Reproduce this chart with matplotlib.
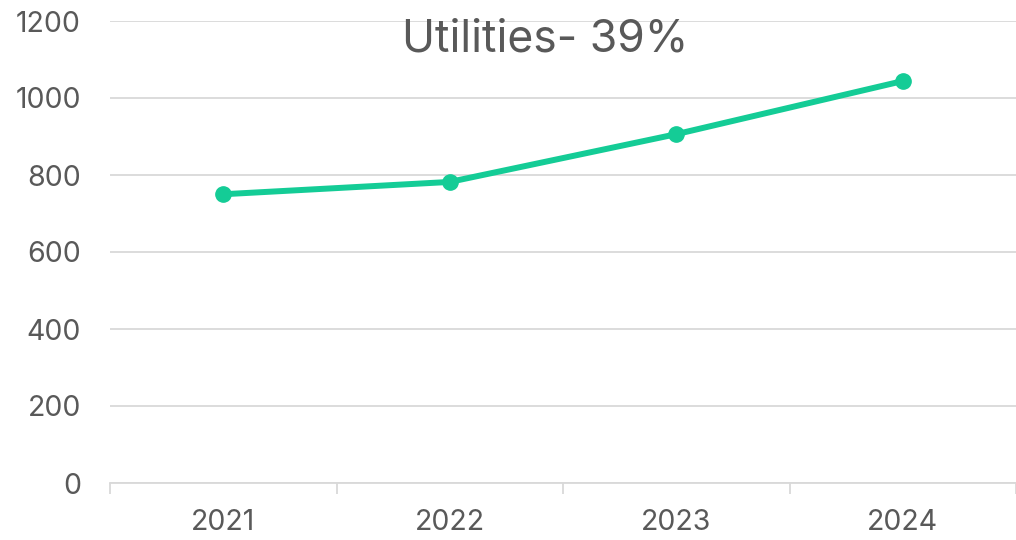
import matplotlib
matplotlib.use('Agg')
import matplotlib.pyplot as plt
from matplotlib.ticker import FixedLocator

years = ['2021', '2022', '2023', '2024']
values = [750, 782, 906, 1044]
title = 'Utilities- 39%'

plt.rcParams['font.family'] = ['Inter', 'DejaVu Sans']
txt = '#595959'
grid = '#d9d9d9'

fig = plt.figure(figsize=(10.16, 5.4), dpi=100)
ax = fig.add_axes([110/1016, 1 - 483/540, 906/1016, (483 - 21)/540])

x = list(range(len(years)))
ax.plot(x, values, color='#14cc96', linewidth=4.3, marker='o', markersize=11,
        solid_capstyle='round', zorder=3)

ax.set_xlim(-0.5, len(years) - 0.5)
ax.set_ylim(0, 1200)
ax.set_yticks(range(0, 1201, 200))
ax.set_xticks(x)
ax.set_xticklabels(years)
ax.xaxis.set_minor_locator(FixedLocator([i - 0.5 for i in range(len(years) + 1)]))

ax.grid(axis='y', color=grid, linewidth=1.3)
ax.set_axisbelow(True)
for s in ['top', 'right', 'left']:
    ax.spines[s].set_visible(False)
ax.spines['bottom'].set_color(grid)
ax.spines['bottom'].set_linewidth(1.3)

ax.tick_params(axis='y', length=0, pad=21, labelsize=20.5, labelcolor=txt)
ax.tick_params(axis='x', which='major', length=0, pad=19, labelsize=20.5, labelcolor=txt)
ax.tick_params(axis='x', which='minor', length=8, width=1.3, color=grid)

fig.text(545/1016, 1 - 52/540, title, ha='center', va='baseline', fontsize=32, color=txt)

fig.savefig('out.png', dpi=100)
